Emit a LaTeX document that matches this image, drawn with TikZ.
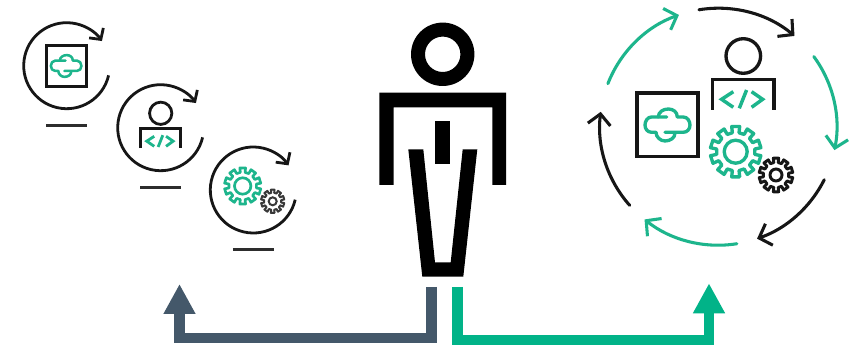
\documentclass[tikz,border=0pt]{standalone}
\usetikzlibrary{arrows.meta}
\definecolor{hpegreen}{HTML}{01B388}
\definecolor{icongreen}{HTML}{1DB58C}
\definecolor{slategray}{HTML}{44586A}
\definecolor{iconblack}{HTML}{161616}
\tikzset{
  iconline/.style={draw=iconblack,line width=2.1pt},
  smallbarb/.style={-{Straight Barb[length=6pt,width=13pt,line width=2.1pt]}},
  bigbarb/.style={-{Straight Barb[length=8pt,width=17pt,line width=2.3pt]},line width=2.3pt,line cap=round},
  feed/.style={line width=7.7pt,-{Triangle[length=22.5pt,width=22.5pt]}},
  underbar/.style={draw=iconblack!90,line width=2.2pt}
}
% cycling ring with underline
\newcommand{\cyclering}[2]{%
  \draw[iconline,smallbarb] ([shift={(13:43)}]#1,#2) arc (13:325:43);
  \draw[underbar] (#1-20.5,#2+59.5) -- (#1+20.5,#2+59.5);
}
% cloud
\newcommand{\cloudmark}[4]{%
  \begin{scope}[shift={(#1,#2)},scale=#3]
    \draw[draw=icongreen,line width=#4,line cap=round,line join=round]
      (-0.7,-8) -- (-15.7,-8) .. controls (-19.7,-8) and (-22.3,-4) .. (-22.3,0)
      .. controls (-22.3,4) and (-19.7,7.3) .. (-15.7,7.3) -- (-11.3,7.3)
      .. controls (-11.3,12) and (-7,16) .. (-2.3,16)
      .. controls (3,16) and (7.7,13) .. (7.7,8);
    \draw[draw=icongreen,line width=#4,line cap=round,line join=round]
      (-9,-8) .. controls (-9,-13) and (-4,-16) .. (1,-16)
      .. controls (6,-16) and (10,-13) .. (10,-8) -- (16,-8)
      .. controls (20,-8) and (22.7,-4) .. (22.7,0)
      .. controls (22.7,4) and (20,7.3) .. (16,7.3) -- (-2.3,7.3);
  \end{scope}}
% developer
\newcommand{\devmark}[5]{%
  \begin{scope}[shift={(#1,#2)},scale=#3]
    \draw[draw=iconblack,line width=#4] (0,0) circle (17.3);
    \draw[draw=iconblack,line width=#4,line join=miter] (-30.8,54) -- (-30.8,23.3) -- (30.8,23.3) -- (30.8,54);
    \draw[draw=icongreen,line width=#5] (-10,35.7) -- (-21.7,43.3) -- (-10,51.3);
    \draw[draw=icongreen,line width=#5] (-4,52.3) -- (3.3,34);
    \draw[draw=icongreen,line width=#5] (8.3,35.7) -- (19.3,43.3) -- (8.3,51.3);
  \end{scope}}
% gear
\newcommand{\gearmark}[7]{%
  \draw[draw=#6,line width=#7,line join=round]
    (#1,#2) ++(90-9:#3) \foreach \k in {0,...,9}{
      -- ({#1+#3*cos(90-9+\k*36)},{#2+#3*sin(90-9+\k*36)})
      -- ({#1+#3*cos(90+9+\k*36)},{#2+#3*sin(90+9+\k*36)})
      -- ({#1+#4*cos(90+10+\k*36)},{#2+#4*sin(90+10+\k*36)})
      -- ({#1+#4*cos(90+26+\k*36)},{#2+#4*sin(90+26+\k*36)})
    } -- cycle;
  \draw[draw=#6,line width=#7] (#1,#2) circle (#5);
}
\begin{document}
\begin{tikzpicture}[x=0.75pt,y=-0.75pt]
\useasboundingbox (0,0) rectangle (854,348);
\fill[white] (0,0) rectangle (854,348);

% left column of icons
\cyclering{66.7}{65.7}
\draw[iconline,line width=2.4pt] (46.5,45.5) rectangle (86.5,86.5);
\cloudmark{66}{66}{0.68}{1.9pt}

\cyclering{160.7}{127.7}
\devmark{160.7}{113.3}{0.644}{2.1pt}{2.1pt}

\cyclering{253.3}{190}
\gearmark{242.7}{186}{18.3}{13.8}{8.2}{icongreen}{2pt}
\gearmark{272.7}{201.3}{11.7}{8.6}{4}{iconblack!85}{1.5pt}

% person
\fill[black,even odd rule] (442.7,54.3) circle (31.7) (442.7,54.3) circle (17.7);
\fill[black] (379.3,92.7) -- (506,92.7) -- (506,185) -- (492.3,185) -- (492.3,107.3)
  -- (393.7,107.3) -- (393.7,185) -- (379.3,185) -- cycle;
\fill[black] (435.3,121) rectangle (450,163.7);
\fill[black] (408.3,149.3) -- (423.3,149.3) -- (435,262.3) -- (450.7,262.3) -- (462.7,149.3)
  -- (477.3,149.3) -- (463.3,276.7) -- (422.3,276.7) -- cycle;

% connectors
\coordinate (leftstart) at (431.5,287);
\coordinate (leftcorner) at (431.5,338);
\coordinate (leftbend) at (179.5,338);
\coordinate (lefttip) at (179.5,284);
\draw[feed,color=slategray] (leftstart) -- (leftcorner) -- (leftbend) -- (lefttip);
\coordinate (rightstart) at (457.5,287);
\coordinate (rightcorner) at (457.5,340.3);
\coordinate (rightbend) at (709,340.3);
\coordinate (righttip) at (709,283.3);
\draw[feed,color=hpegreen] (rightstart) -- (rightcorner) -- (rightbend) -- (righttip);

% right cycle
\coordinate (cyc) at (718.3,126.7);
\draw[draw=iconblack,bigbarb] ([shift={(-99.4:118.5)}]cyc) arc (-99.4:-50:118.5);
\draw[draw=icongreen,bigbarb] ([shift={(-36.3:118.5)}]cyc) arc (-36.3:11.4:118.5);
\draw[draw=iconblack,bigbarb] ([shift={(26.6:118.5)}]cyc) arc (26.6:70.9:118.5);
\draw[draw=icongreen,bigbarb] ([shift={(81:118.5)}]cyc) arc (81:128.5:118.5);
\draw[draw=iconblack,bigbarb] ([shift={(138.4:118.5)}]cyc) arc (138.4:187.2:118.5);
\draw[draw=icongreen,bigbarb] ([shift={(201.3:118.5)}]cyc) arc (201.3:250.6:118.5);

\draw[iconline,line width=2.6pt] (637,93) rectangle (698,156.5);
\cloudmark{667.3}{125}{1}{2.5pt}
\devmark{743.3}{56}{1}{2.5pt}{2.6pt}
\gearmark{735.7}{151.7}{25.5}{19.2}{11.5}{icongreen}{2.5pt}
\gearmark{776}{175}{17}{12.6}{6}{iconblack}{2.2pt}
\end{tikzpicture}
\end{document}
